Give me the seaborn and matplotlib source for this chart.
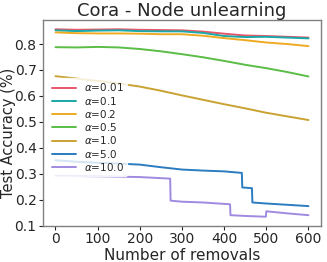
import numpy as np
import pandas as pd
import matplotlib
matplotlib.use('Agg')
import matplotlib.pyplot as plt
import seaborn as sns

# ---- data ----
alphas = ['0.01', '0.1', '0.2', '0.5', '1.0', '5.0', '10.0']
colors = ['#e8566a', '#1aa8a8', '#eeaa22', '#5abd45', '#c9a232', '#2b7cc0', '#a08ae0']

x_common = [0, 50, 100, 150, 200, 250, 300, 350, 400, 450, 500, 550, 600]
acc_001 = [0.857, 0.855, 0.856, 0.857, 0.855, 0.854, 0.853, 0.848, 0.840, 0.833, 0.831, 0.828, 0.825]
acc_01 = [0.853, 0.850, 0.852, 0.853, 0.850, 0.849, 0.849, 0.843, 0.831, 0.827, 0.828, 0.825, 0.822]
acc_02 = [0.845, 0.842, 0.841, 0.841, 0.840, 0.838, 0.838, 0.832, 0.823, 0.815, 0.806, 0.800, 0.792]
acc_05 = [0.788, 0.787, 0.789, 0.787, 0.781, 0.772, 0.761, 0.749, 0.735, 0.720, 0.707, 0.692, 0.675]
acc_10 = [0.676, 0.667, 0.658, 0.648, 0.636, 0.620, 0.602, 0.585, 0.568, 0.552, 0.535, 0.521, 0.507]

x_a5 = [0, 50, 100, 150, 200, 250, 300, 350, 400, 442, 443, 466, 467, 500, 550, 600]
acc_50 = [0.352, 0.346, 0.342, 0.339, 0.335, 0.325, 0.316, 0.312, 0.309, 0.303, 0.247, 0.244, 0.189, 0.185, 0.180, 0.175]

x_a10 = [0, 100, 200, 272, 273, 300, 350, 414, 415, 450, 499, 500, 550, 600]
acc_100 = [0.292, 0.290, 0.287, 0.281, 0.196, 0.192, 0.189, 0.182, 0.140, 0.137, 0.134, 0.155, 0.147, 0.140]

frames = []
for a, xs, ys in [('0.01', x_common, acc_001), ('0.1', x_common, acc_01),
                  ('0.2', x_common, acc_02), ('0.5', x_common, acc_05),
                  ('1.0', x_common, acc_10), ('5.0', x_a5, acc_50),
                  ('10.0', x_a10, acc_100)]:
    frames.append(pd.DataFrame({'removals': xs, 'acc': ys,
                                'alpha': r'$\alpha$=' + a}))
df = pd.concat(frames, ignore_index=True)

sns.set_style('white')
plt.rcParams['font.family'] = ['DejaVu Sans']

fig = plt.figure(figsize=(3.27, 2.62), dpi=100)
ax = fig.add_axes([0.131, 0.137, 0.851, 0.787])

palette = {r'$\alpha$=' + a: c for a, c in zip(alphas, colors)}
sns.lineplot(data=df, x='removals', y='acc', hue='alpha', palette=palette,
             linewidth=1.4, ax=ax)

ax.set_title('Cora - Node unlearning', fontsize=13, pad=3)
ax.set_xlabel('Number of removals', fontsize=11, labelpad=1)
ax.set_ylabel('Test Accuracy (%)', fontsize=10.5)
ax.yaxis.set_label_coords(-0.097, 0.45)
ax.set_xticks([0, 100, 200, 300, 400, 500, 600])
ax.set_yticks([0.1, 0.2, 0.3, 0.4, 0.5, 0.6, 0.7, 0.8])
ax.tick_params(axis='both', labelsize=10, length=3, width=0.8,
               direction='out', bottom=True, left=True, pad=1.5)
for s in ax.spines.values():
    s.set_color('#808080')
    s.set_linewidth(1.0)

ax.legend(loc='center left', bbox_to_anchor=(0.01, 0.48), fontsize=7.5,
          frameon=True, framealpha=0.8, edgecolor='white', title=None,
          handlelength=2.3, borderaxespad=0.3, labelspacing=0.12,
          borderpad=0.3)

plt.savefig('out.png', dpi=100)
